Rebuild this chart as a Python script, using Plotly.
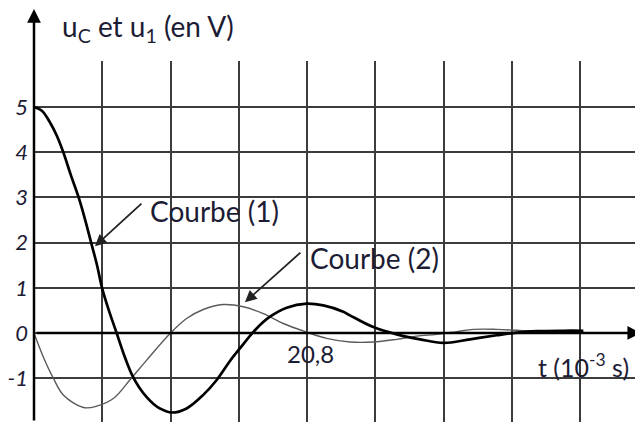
import plotly.graph_objects as go

# curve (1): u_C, thick
t1 = [0, 0.6, 1.22, 1.73, 2.23, 2.8, 3.4, 3.9, 4.35, 4.8, 5.18, 5.7, 6.29, 6.9, 7.5, 8.0, 8.58,
      9.1, 9.59, 10.48, 11.62, 12.89, 13.91, 14.92, 15.68, 16.95, 17.97, 19.24, 20.76, 22.03,
      23.55, 24.06, 25.84, 27.62, 29.4, 31.17, 33.2, 35.23, 36.75, 38.28, 40.31, 41.83]
u1 = [5.0, 4.92, 4.66, 4.37, 4.0, 3.5, 3.0, 2.5, 2.0, 1.5, 1.0, 0.5, 0.0, -0.52, -0.95, -1.2, -1.42,
      -1.57, -1.67, -1.76, -1.67, -1.37, -1.04, -0.62, -0.34, 0.10, 0.36, 0.56, 0.65, 0.61,
      0.47, 0.39, 0.13, -0.03, -0.14, -0.22, -0.14, -0.05, 0.01, 0.04, 0.05, 0.05]

# curve (2): u_1, thin
t2 = [0, 0.71, 1.47, 2.23, 3.76, 4.77, 6.04, 7.30, 8.58, 10.4, 11.62, 12.89, 14.41,
      15.94, 17.46, 18.98, 20.76, 22.28, 24.06, 25.84, 27.62, 29.14, 30.67, 32.19,
      33.46, 35.23, 36.75, 38.0, 40.0]
u2 = [0, -0.53, -1.0, -1.37, -1.65, -1.62, -1.45, -1.04, -0.60, 0.0, 0.32, 0.52, 0.63,
      0.58, 0.43, 0.21, 0.02, -0.12, -0.20, -0.20, -0.14, -0.07, -0.03, 0.03,
      0.08, 0.08, 0.06, 0.04, 0.04]

y_ticks = [-1, 0, 1, 2, 3, 4, 5, 6]
y_labels = ['-1', '0', '1', '2', '3', '4', '5', '']

FONT = "Lato"
TXT = "#1c1c34"

fig = go.Figure()
fig.add_trace(go.Scatter(x=t2, y=u2, mode='lines', line=dict(color='#5a5a5a', width=1.4, shape='spline'),
                         hoverinfo='none'))
fig.add_trace(go.Scatter(x=t1, y=u1, mode='lines', line=dict(color='black', width=2.7, shape='spline'),
                         hoverinfo='none'))

# page body has an 8px margin, so the figure is shifted up/left by 8px
fig.update_layout(
    width=643, height=422,
    margin=dict(l=26, r=8, t=53, b=8),
    plot_bgcolor='white', paper_bgcolor='white',
    showlegend=False,
    xaxis=dict(range=[0, 46.37], tick0=0, dtick=5.2, showgrid=True, gridcolor='#3c3c3c', gridwidth=2,
               showticklabels=False, zeroline=False, showline=False, ticks='', automargin=False),
    yaxis=dict(range=[-1.97, 6.02], tickmode='array', tickvals=y_ticks, ticktext=y_labels,
               showgrid=True, gridcolor='#3c3c3c', gridwidth=2, zeroline=False, showline=False,
               ticks='', ticklabelstandoff=5, automargin=False,
               tickfont=dict(family=FONT, size=22, color=TXT, style='italic')),
)

# axes arrows
fig.add_annotation(x=0.997, xref='paper', y=0, yref='y', ax=-606, ay=0, showarrow=True,
                   arrowhead=2, arrowsize=1.1, arrowwidth=2.5, arrowcolor='black', text='')
fig.add_annotation(x=0, xref='x', y=1.147, yref='paper', ax=0, ay=414, showarrow=True,
                   arrowhead=2, arrowsize=1.1, arrowwidth=2.5, arrowcolor='black', text='')

# pointers to the curves
fig.add_annotation(x=4.64, y=1.92, ax=48, ay=-44, showarrow=True, arrowhead=2, arrowsize=1.3,
                   arrowwidth=1.8, arrowcolor='#222', text='')
fig.add_annotation(x=16.06, y=0.68, ax=57, ay=-51, showarrow=True, arrowhead=2, arrowsize=1.3,
                   arrowwidth=1.8, arrowcolor='#222', text='')

fig.add_annotation(x=8.68, y=2.71, text='Courbe (1)', showarrow=False, xanchor='left', yanchor='middle',
                   font=dict(family=FONT, size=28, color=TXT))
fig.add_annotation(x=20.86, y=1.67, text='Courbe (2)', showarrow=False, xanchor='left', yanchor='middle',
                   font=dict(family=FONT, size=28, color=TXT))
fig.add_annotation(x=20.8, y=-0.45, text='20,8', showarrow=False, xanchor='center', yanchor='middle',
                   xshift=3, font=dict(family=FONT, size=24, color=TXT))
fig.add_annotation(x=38.2, y=-0.71, text='t (10<sup>-3</sup> s)', showarrow=False, xanchor='left',
                   yanchor='middle', font=dict(family=FONT, size=25, color=TXT))
fig.add_annotation(x=0.0427, xref='paper', y=1.091, yref='paper', text='u<sub>C</sub> et u<sub>1</sub> (en V)',
                   showarrow=False, xanchor='left', yanchor='middle', font=dict(family=FONT, size=28, color=TXT))

fig.write_html("out.html")
